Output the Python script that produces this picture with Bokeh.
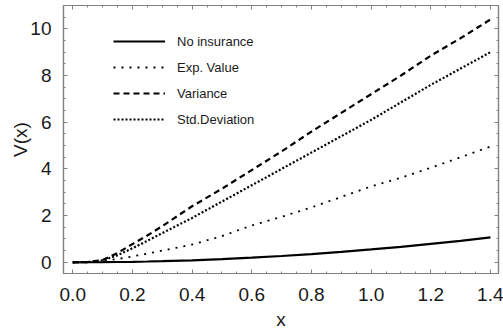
from bokeh.plotting import figure
from bokeh.models import Range1d, LinearAxis, SingleIntervalTicker, PrintfTickFormatter, Legend, LegendItem
from bokeh.embed import file_html
from bokeh.resources import INLINE

# data
x_vals = [0.0, 0.05, 0.1, 0.15, 0.2, 0.25, 0.3, 0.4, 0.5, 0.6, 0.7, 0.8, 0.9, 1.0, 1.1, 1.2, 1.3, 1.4]
no_insurance = [0.0, 0.001, 0.005, 0.012, 0.022, 0.035, 0.05, 0.085, 0.135, 0.2, 0.27, 0.35, 0.445, 0.55, 0.66, 0.79, 0.92, 1.07]
exp_value = [0.0, 0.01, 0.05, 0.14, 0.25, 0.37, 0.5, 0.76, 1.12, 1.58, 1.95, 2.35, 2.8, 3.25, 3.62, 4.05, 4.5, 4.96]
variance = [0.0, 0.01, 0.1, 0.4, 0.78, 1.15, 1.55, 2.4, 3.15, 3.95, 4.75, 5.6, 6.4, 7.2, 8.0, 8.85, 9.6, 10.4]
std_dev = [0.0, 0.01, 0.08, 0.3, 0.6, 0.92, 1.25, 1.9, 2.6, 3.3, 4.0, 4.7, 5.4, 6.1, 6.85, 7.6, 8.3, 9.0]
series_names = ["No insurance", "Exp. Value", "Variance", "Std.Deviation"]

FONT = "Liberation Sans"
GRAY = "#808080"

p = figure(width=503, height=336, output_backend="svg", toolbar_location=None,
           x_range=Range1d(-0.031, 1.427), y_range=Range1d(-0.48, 11.0),
           min_border_left=63, min_border_right=5, min_border_top=5, min_border_bottom=63,
           x_axis_location=None, y_axis_location=None)
p.grid.visible = False
p.outline_line_color = GRAY
p.outline_line_width = 1.2
p.background_fill_color = "white"
p.border_fill_color = "white"

def style_axis(ax, show_labels, ticker, formatter=None):
    ax.ticker = ticker
    if formatter is not None:
        ax.formatter = formatter
    ax.axis_line_color = GRAY
    ax.axis_line_width = 1.2
    ax.major_tick_line_color = GRAY
    ax.minor_tick_line_color = GRAY
    ax.major_tick_in = 4
    ax.major_tick_out = 0
    ax.minor_tick_in = 2
    ax.minor_tick_out = 0
    ax.major_label_text_font = FONT
    ax.major_label_text_font_size = "19px"
    ax.major_label_text_color = "#1a1a1a" if show_labels else None
    ax.axis_label_text_font = FONT
    ax.axis_label_text_font_size = "19px"
    ax.axis_label_text_font_style = "normal"
    ax.axis_label_text_color = "#1a1a1a"

xt = lambda: SingleIntervalTicker(interval=0.2, num_minor_ticks=4)
yt = lambda: SingleIntervalTicker(interval=2, num_minor_ticks=4)

ax_b = LinearAxis(axis_label="x")
style_axis(ax_b, True, xt(), PrintfTickFormatter(format="%.1f"))
ax_b.major_label_standoff = 14
ax_b.axis_label_standoff = 5
p.add_layout(ax_b, "below")

ax_l = LinearAxis(axis_label="V(x)")
style_axis(ax_l, True, yt())
ax_l.major_label_standoff = 12
ax_l.axis_label_standoff = -4
p.add_layout(ax_l, "left")

ax_t = LinearAxis()
style_axis(ax_t, False, xt())
ax_t.major_label_text_font_size = "0px"
ax_t.major_label_standoff = -20
p.add_layout(ax_t, "above")

ax_r = LinearAxis()
style_axis(ax_r, False, yt())
ax_r.major_label_text_font_size = "0px"
ax_r.major_label_standoff = -20
p.add_layout(ax_r, "right")

r1 = p.line(x_vals, no_insurance, line_color="black", line_width=2.2)
r2 = p.line(x_vals, exp_value, line_color="black", line_width=1.8, line_dash="2 6")
r3 = p.line(x_vals, variance, line_color="black", line_width=2.2, line_dash="6 4")
r4 = p.line(x_vals, std_dev, line_color="black", line_width=2.2, line_dash="2 2")

legend = Legend(items=[LegendItem(label=n, renderers=[r]) for n, r in zip(series_names, [r1, r2, r3, r4])],
                location=(50, 144), padding=0, margin=0, spacing=6,
                glyph_width=52, glyph_height=20, label_standoff=12,
                label_text_font=FONT, label_text_font_size="13px", label_text_color="#1a1a1a",
                border_line_color=None, background_fill_alpha=0)
p.add_layout(legend, "center")

open("out.html", "w").write(file_html(p, INLINE))
